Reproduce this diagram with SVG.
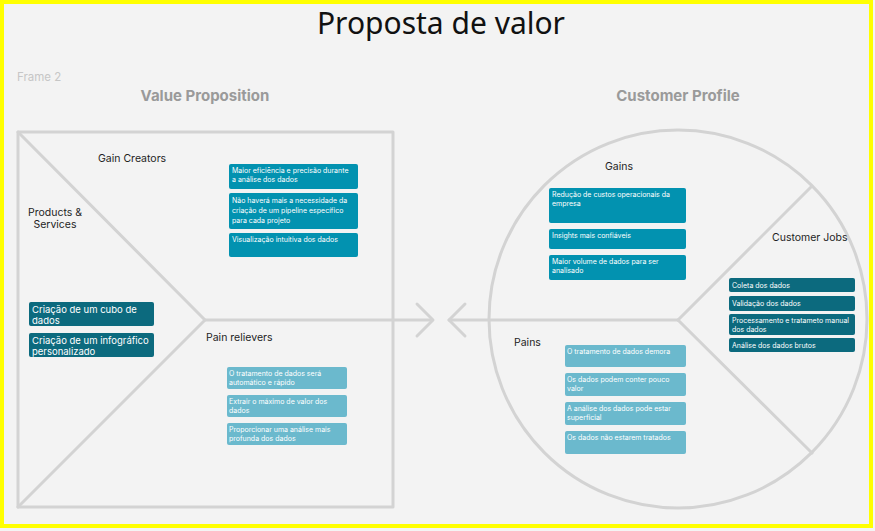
<svg xmlns="http://www.w3.org/2000/svg" width="875" height="531" viewBox="0 0 875 531">
<style>
.ln{fill:none;stroke:#d3d3d3;stroke-width:3;stroke-linecap:round;stroke-linejoin:round}
.lbl{font-family:Inter,"Noto Sans",sans-serif;font-size:10.5px;fill:#1e1e1e}
.hd{font-family:Inter,"Noto Sans",sans-serif;font-size:15px;font-weight:700;fill:#9a9a9a;text-anchor:middle}
.bt{font-family:Inter,Roboto,sans-serif;font-size:7px;fill:#ffffff}
.pt{font-family:Inter,Roboto,sans-serif;font-size:9.5px;fill:#ffffff}
.g{fill:#0292b0}
.d{fill:#0c6a7e}
.l{fill:#6bb9cd}
</style>
<rect x="0" y="0" width="875" height="531" fill="#f4f4f4"/>
<rect x="2" y="2" width="869" height="524" fill="#f3f3f3" stroke="#ffff00" stroke-width="4"/>
<text x="441" y="34" font-family="'Noto Sans',sans-serif" font-size="30" fill="#111" text-anchor="middle">Proposta de valor</text>
<text x="17" y="81" font-family="Inter,sans-serif" font-size="11.5" fill="#c6c6c6">Frame 2</text>
<text class="hd" x="205" y="101">Value Proposition</text>
<text class="hd" x="678" y="101">Customer Profile</text>

<g id="connectors">
<rect class="ln" x="18" y="132" width="375" height="375"/>
<polyline class="ln" points="18,132 205,320 18,507"/>
<line class="ln" x1="205" y1="320" x2="432" y2="320"/>
<polyline class="ln" points="417,304 433,320 417,336"/>
<circle class="ln" cx="678" cy="319" r="189"/>
<line class="ln" x1="449" y1="320" x2="678" y2="320"/>
<polyline class="ln" points="465,304 449,320 465,336"/>
<line class="ln" x1="678" y1="320" x2="811" y2="187"/>
<line class="ln" x1="678" y1="320" x2="812" y2="453"/>
</g>

<g id="gain-creators">
<text class="lbl" x="98" y="162">Gain Creators</text>
<rect class="g" x="229" y="164" width="129" height="25" rx="2"/>
<text class="bt" x="232" y="173">Maior eficiência e precisão durante</text>
<text class="bt" x="232" y="182">a análise dos dados</text>
<rect class="g" x="229" y="193" width="129" height="36" rx="2"/>
<text class="bt" x="232" y="203">Não haverá mais a necessidade da</text>
<text class="bt" x="232" y="213">criação de um pipeline específico</text>
<text class="bt" x="232" y="223">para cada projeto</text>
<rect class="g" x="229" y="233" width="129" height="24" rx="2"/>
<text class="bt" x="232" y="242">Visualização intuitiva dos dados</text>
</g>

<g id="products-services">
<text class="lbl" x="55" y="216" text-anchor="middle">Products &amp;</text>
<text class="lbl" x="55" y="228" text-anchor="middle">Services</text>
<rect class="d" x="29" y="302" width="125" height="24" rx="2"/>
<text class="pt" x="32" y="313">Criação de um cubo de</text>
<text class="pt" x="32" y="324">dados</text>
<rect class="d" x="29" y="333" width="125" height="24" rx="2"/>
<text class="pt" x="32" y="344">Criação de um infográfico</text>
<text class="pt" x="32" y="355">personalizado</text>
</g>

<g id="pain-relievers">
<text class="lbl" x="206" y="341">Pain relievers</text>
<rect class="l" x="227" y="367" width="120" height="22" rx="2"/>
<text class="bt" x="229" y="376">O tratamento de dados será</text>
<text class="bt" x="229" y="385">automático e rápido</text>
<rect class="l" x="227" y="395" width="120" height="22" rx="2"/>
<text class="bt" x="229" y="404">Extrair o máximo de valor dos</text>
<text class="bt" x="229" y="413">dados</text>
<rect class="l" x="227" y="423" width="120" height="22" rx="2"/>
<text class="bt" x="229" y="432">Proporcionar uma análise mais</text>
<text class="bt" x="229" y="441">profunda dos dados</text>
</g>

<g id="gains">
<text class="lbl" x="605" y="170">Gains</text>
<rect class="g" x="549" y="188" width="137" height="35" rx="2"/>
<text class="bt" x="552" y="197">Redução de custos operacionais da</text>
<text class="bt" x="552" y="206">empresa</text>
<rect class="g" x="549" y="229" width="137" height="20" rx="2"/>
<text class="bt" x="552" y="238">Insights mais confiáveis</text>
<rect class="g" x="549" y="255" width="137" height="25" rx="2"/>
<text class="bt" x="552" y="264">Maior volume de dados para ser</text>
<text class="bt" x="552" y="273">analisado</text>
</g>

<g id="pains">
<text class="lbl" x="514" y="346">Pains</text>
<rect class="l" x="565" y="345" width="121" height="22" rx="2"/>
<text class="bt" x="567" y="354">O tratamento de dados demora</text>
<rect class="l" x="565" y="373" width="121" height="23" rx="2"/>
<text class="bt" x="567" y="382">Os dados podem conter pouco</text>
<text class="bt" x="567" y="391">valor</text>
<rect class="l" x="565" y="402" width="121" height="23" rx="2"/>
<text class="bt" x="567" y="411">A análise dos dados pode estar</text>
<text class="bt" x="567" y="420">superficial</text>
<rect class="l" x="565" y="431" width="121" height="23" rx="2"/>
<text class="bt" x="567" y="440">Os dados não estarem tratados</text>
</g>

<g id="customer-jobs">
<text class="lbl" x="772" y="241">Customer Jobs</text>
<rect class="d" x="729" y="278" width="126" height="14" rx="2"/>
<text class="bt" x="732" y="287.5">Coleta dos dados</text>
<rect class="d" x="729" y="296" width="126" height="15" rx="2"/>
<text class="bt" x="732" y="305.5">Validação dos dados</text>
<rect class="d" x="729" y="314" width="126" height="21" rx="2"/>
<text class="bt" x="732" y="322.5">Processamento e tratameto manual</text>
<text class="bt" x="732" y="331.5">dos dados</text>
<rect class="d" x="729" y="338" width="126" height="14" rx="2"/>
<text class="bt" x="732" y="347.5">Análise dos dados brutos</text>
</g>
</svg>
